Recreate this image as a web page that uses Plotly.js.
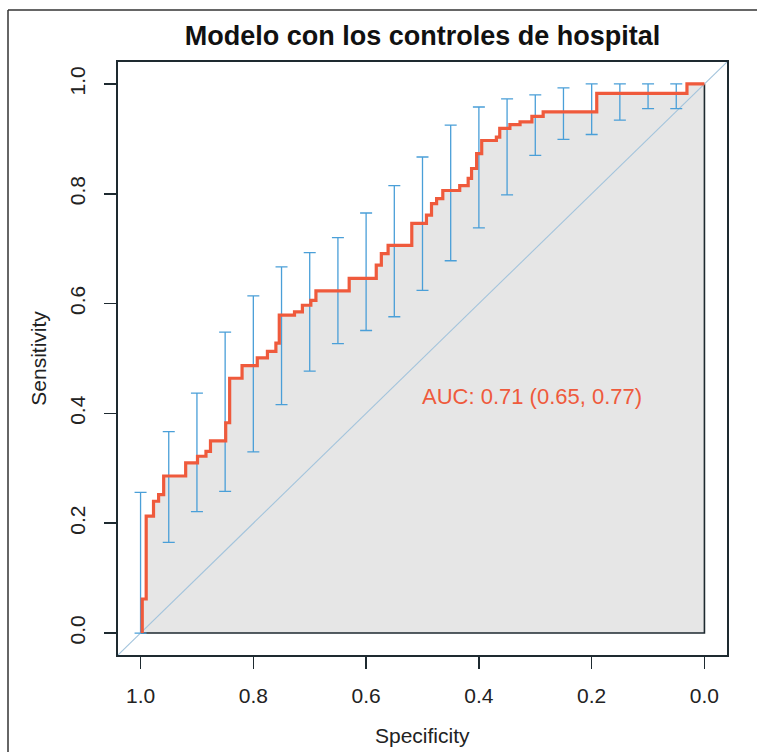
<!DOCTYPE html>
<html>
<head>
<meta charset="utf-8">
<script src="https://cdn.plot.ly/plotly-3.0.1.min.js"></script>
<style>html,body{margin:0;padding:0;background:#fff;}#chart{width:757px;height:752px;}</style>
</head>
<body>
<div id="chart"></div>
<script>
// ROC curve vertices (specificity, sensitivity)
var curveSpec = [0.997, 0.990, 0.977, 0.968, 0.959, 0.920, 0.899, 0.884, 0.876, 0.849, 0.842, 0.820, 0.793, 0.775, 0.760, 0.754, 0.727, 0.713, 0.698, 0.689, 0.630, 0.582, 0.573, 0.561, 0.519, 0.493, 0.484, 0.475, 0.464, 0.434, 0.419, 0.413, 0.404, 0.395, 0.369, 0.363, 0.345, 0.327, 0.306, 0.286, 0.191, 0.031, 0.0];
var curveSens = [0.0, 0.062, 0.213, 0.240, 0.252, 0.286, 0.310, 0.322, 0.331, 0.350, 0.383, 0.464, 0.487, 0.501, 0.513, 0.528, 0.579, 0.585, 0.597, 0.606, 0.623, 0.646, 0.670, 0.691, 0.706, 0.746, 0.761, 0.782, 0.791, 0.806, 0.815, 0.828, 0.846, 0.873, 0.897, 0.903, 0.919, 0.926, 0.931, 0.941, 0.949, 0.983, 1.0];

// Sensitivity confidence intervals at fixed specificities
var ciSpec  = [1.0, 0.95, 0.9, 0.85, 0.8, 0.75, 0.7, 0.65, 0.6, 0.55, 0.5, 0.45, 0.4, 0.35, 0.3, 0.25, 0.2, 0.15, 0.1, 0.05];
var ciLower = [0.0, 0.165, 0.221, 0.258, 0.330, 0.416, 0.477, 0.527, 0.551, 0.576, 0.624, 0.678, 0.738, 0.798, 0.870, 0.899, 0.908, 0.934, 0.955, 0.955];
var ciUpper = [0.256, 0.367, 0.437, 0.548, 0.614, 0.667, 0.693, 0.720, 0.765, 0.815, 0.867, 0.925, 0.958, 0.973, 0.980, 0.993, 1.0, 1.0, 1.0, 1.0];

var tickVals = [1.0, 0.8, 0.6, 0.4, 0.2, 0.0];
var tickText = ['1.0', '0.8', '0.6', '0.4', '0.2', '0.0'];
var aucLabel = 'AUC: 0.71 (0.65, 0.77)';
var aucPos = {spec: 0.306, sens: 0.431};

var RED = '#ef5a3c';
var BLUE = '#4a9fd8';
var DARK = '#1e2a30';
var FONT = 'Liberation Sans, Arial, sans-serif';

var traces = [
  { // AUC polygon
    x: curveSpec, y: curveSens, type: 'scatter', mode: 'lines',
    line: {shape: 'vh', width: 0, color: 'rgba(0,0,0,0)'},
    fill: 'tozeroy', fillcolor: '#e6e6e6', hoverinfo: 'skip', showlegend: false
  },
  { // polygon border: bottom and right edges
    x: [1.0, curveSpec[curveSpec.length-1], curveSpec[curveSpec.length-1]],
    y: [curveSens[0], curveSens[0], curveSens[curveSens.length-1]],
    type: 'scatter', mode: 'lines', line: {color: DARK, width: 1.6},
    hoverinfo: 'skip', showlegend: false
  },
  { // identity line across the whole plot
    x: [1.04, -0.04], y: [-0.04, 1.04], type: 'scatter', mode: 'lines',
    line: {color: '#a3c4dc', width: 1.1}, hoverinfo: 'skip', showlegend: false
  },
  { // CI bars
    x: ciSpec, y: ciLower, type: 'scatter', mode: 'markers',
    marker: {size: 1, color: 'rgba(0,0,0,0)'},
    error_y: {type: 'data', symmetric: false,
      array: ciUpper.map(function(u, i){ return u - ciLower[i]; }),
      arrayminus: ciLower.map(function(){ return 0; }),
      color: BLUE, thickness: 1.3, width: 6},
    showlegend: false
  },
  { // ROC curve
    x: curveSpec, y: curveSens, type: 'scatter', mode: 'lines',
    line: {shape: 'vh', width: 3.2, color: RED}, showlegend: false
  }
];

var layout = {
  width: 757, height: 752,
  margin: {l: 118, r: 30, t: 62, b: 97},
  paper_bgcolor: '#ffffff', plot_bgcolor: '#ffffff',
  showlegend: false,
  font: {family: FONT, color: '#222'},
  title: {
    text: '<b>Modelo con los controles de hospital</b>',
    font: {family: FONT, size: 27, color: '#111'},
    x: 0.5, xref: 'paper', xanchor: 'center',
    y: 1 - 36/752, yref: 'container', yanchor: 'middle'
  },
  xaxis: {
    range: [1.04, -0.04], tickvals: tickVals, ticktext: tickText,
    showgrid: false, zeroline: false,
    showline: true, mirror: true, linecolor: DARK, linewidth: 1.6,
    ticks: 'outside', ticklen: 12, tickwidth: 1.6, tickcolor: DARK,
    tickfont: {family: FONT, size: 21, color: '#222'},
    ticklabelstandoff: 9
  },
  yaxis: {
    range: [-0.04, 1.04], tickvals: tickVals, ticktext: tickText,
    showgrid: false, zeroline: false,
    showline: true, mirror: true, linecolor: DARK, linewidth: 1.6,
    ticks: 'outside', ticklen: 12, tickwidth: 1.6, tickcolor: DARK,
    tickangle: -90,
    tickfont: {family: FONT, size: 21, color: '#222'},
    ticklabelstandoff: 11
  },
  annotations: [
    {text: aucLabel, x: aucPos.spec, y: aucPos.sens, xref: 'x', yref: 'y',
     showarrow: false, font: {family: FONT, size: 22, color: RED},
     xanchor: 'center', yanchor: 'middle'},
    {text: 'Specificity', x: 0.5, y: -0.135, xref: 'paper', yref: 'paper',
     showarrow: false, font: {family: FONT, size: 21, color: '#222'},
     xanchor: 'center', yanchor: 'middle'},
    {text: 'Sensitivity', x: -0.131, y: 0.5, xref: 'paper', yref: 'paper',
     textangle: -90, showarrow: false, font: {family: FONT, size: 21, color: '#222'},
     xanchor: 'center', yanchor: 'middle'}
  ],
  shapes: [
    {type: 'line', xref: 'paper', yref: 'paper', x0: -110/609, x1: -110/609, y0: 645/593, y1: -97/593,
     line: {color: '#333', width: 1.5}},
    {type: 'line', xref: 'paper', yref: 'paper', x0: -110/609, x1: 639/609, y0: 645/593, y1: 645/593,
     line: {color: '#333', width: 1.5}}
  ]
};

Plotly.newPlot('chart', traces, layout, {displayModeBar: false, staticPlot: true});
</script>
</body>
</html>
